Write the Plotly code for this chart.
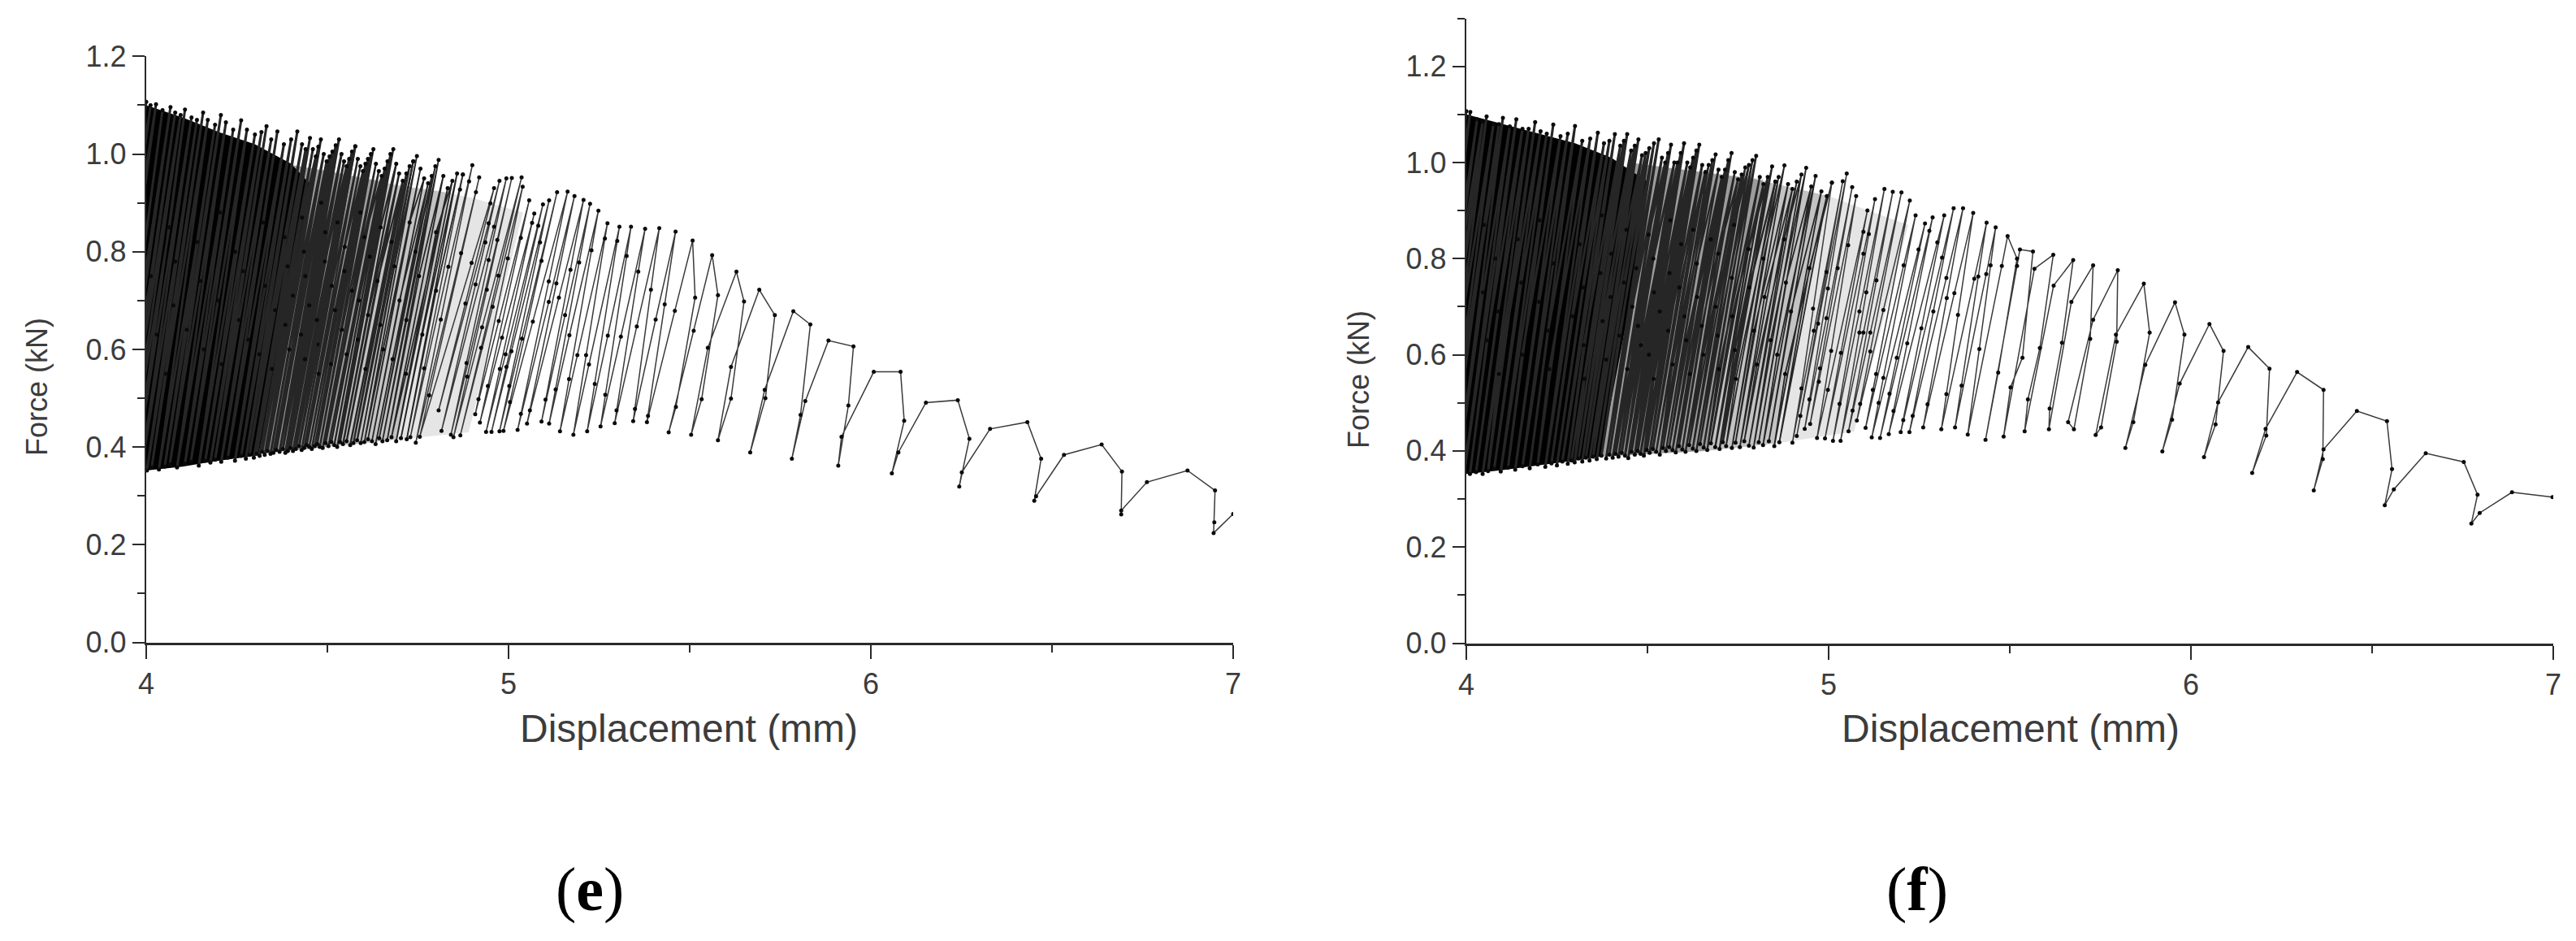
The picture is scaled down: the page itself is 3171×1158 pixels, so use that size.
import plotly.graph_objects as go

# ---------- panel (e) ----------
e_peak_x = [4.000,4.012,4.027,4.045,4.067,4.08,4.095,4.107,4.125,4.14,4.157,4.17,4.19,4.206,4.22,4.24,4.262,4.278,4.3,4.318,4.332,4.345,4.362,4.38,4.40,4.417,4.43,4.44,
 4.452,4.46,4.468,4.475,4.482,4.49,4.498,4.506,4.514,4.523,4.532,4.539,4.546,4.553,4.56,4.568,4.577,4.584,4.591,4.598,4.605,4.612,4.62,4.627,4.634,4.642,4.65,4.658,4.666,4.674,4.682,4.69,4.698,4.708,4.718,4.727,4.737,4.747,4.757,4.767,4.778,4.788,4.798,4.807,4.82,4.832,4.845,4.858]
e_peak_y = [1.107,1.10,1.102,1.09,1.096,1.085,1.08,1.091,1.075,1.07,1.085,1.07,1.06,1.080,1.065,1.05,1.069,1.05,1.04,1.045,1.057,1.03,1.046,1.02,1.03,1.046,1.02,1.01,
 1.033,1.01,.995,1.015,1.030,1.0,.985,.995,1.005,1.018,1.030,1.0,.985,.975,.99,1.005,1.016,.99,.975,.965,.98,.99,1.0,1.010,.98,.965,.955,.97,.985,1.0,1.010,.98,.96,.945,.96,.975,.985,.996,.97,.95,.94,.955,.975,.988,.955,.93,.945,.96]
e_valley_x = [3.857,3.872,3.89,3.912,3.925,3.94,3.952,3.97,3.985,4.002,4.015,4.035,4.051,4.065,4.085,4.107,4.123,4.145,4.163,4.177,4.19,4.207,4.225,4.245,4.262,4.275,4.285,4.297,
 4.305,4.313,4.32,4.327,4.335,4.343,4.351,4.359,4.368,4.377,4.384,4.391,4.398,4.405,4.413,4.422,4.429,4.436,4.443,4.45,4.457,4.465,4.472,4.479,4.487,4.495,4.503,4.511,4.519,4.527,4.535,4.543,4.553,4.563,4.572,4.582,4.592,4.602,4.612,4.623,4.633,4.643,4.652,4.665,4.677,4.69,4.703,4.719]
e_valley_y = [.335,.338,.34,.342,.343,.345,.346,.348,.349,.352,.358,.354,.36,.365,.358,.366,.37,.362,.372,.368,.374,.37,.378,.372,.382,.376,.384,.378,
 .386,.382,.39,.384,.392,.386,.388,.394,.39,.396,.388,.392,.398,.392,.396,.402,.394,.398,.404,.4,.396,.402,.406,.4,.398,.408,.402,.41,.404,.4,.41,.406,.412,.404,.408,.414,.408,.41,.416,.412,.406,.418,.412,.414,.42,.412,.418,.416]
e_mid_x = [3.938,3.924,3.995,3.978,4.013,3.987,4.064,4.029,4.08,4.075,4.055,4.14,4.112,4.15,4.204,4.159,4.199,4.245,4.208,4.267,4.256,4.322,4.282,4.328,4.312,4.382,4.356,4.39,
 4.347,4.43,4.384,4.405,4.435,4.395,4.439,4.483,4.427,4.45,4.494,4.438,4.493,4.471,4.528,4.476,4.512,4.476,4.548,4.521,4.547,4.51,4.591,4.54,4.568,4.602,4.553,4.587,4.617,4.584,4.647,4.612,4.638,4.605,4.677,4.646,4.685,4.654,4.727,4.699,4.68,4.743,4.718,4.753,4.717,4.80,4.762,4.80]
e_mid_y = [.72,.6,.81,.66,.75,.58,.85,.63,.78,.69,.55,.82,.64,.74,.88,.6,.7,.8,.57,.76,.66,.86,.62,.73,.59,.83,.68,.77,
 .56,.87,.65,.71,.8,.6,.75,.9,.63,.69,.84,.58,.78,.66,.86,.61,.73,.55,.81,.68,.76,.57,.88,.64,.72,.83,.59,.7,.79,.62,.85,.67,.74,.56,.82,.65,.77,.6,.86,.7,.58,.8,.66,.75,.55,.84,.63,.72]

e_cycle_x = [
 4.874,4.866,4.767,4.729,4.834, 4.900,4.891,4.813,4.744,4.869, 4.919,4.910,4.781,4.755,4.898,
 4.960,4.950,4.881,4.807,4.945, 4.975,4.936,4.909,4.815,4.960, 4.994,4.945,4.884,4.841,4.969,
 5.009,4.940,4.886,4.848,4.927, 5.036,4.972,4.924,4.867,4.956, 5.039,4.998,4.917,4.908,4.973,
 5.057,5.034,4.943,4.921,4.982, 5.071,5.065,4.976,4.938,4.992, 5.095,5.082,4.994,4.953,5.008,
 5.112,5.087,5.002,4.975,5.037, 5.134,5.091,5.004,4.986,5.067, 5.163,5.111,5.034,5.025,5.111,
 5.182,5.132,5.059,5.051,5.139, 5.207,5.171,5.102,5.091,5.156, 5.225,5.195,5.130,5.112,5.168,
 5.248,5.229,5.167,5.142,5.190, 5.273,5.266,5.214,5.179,5.222, 5.306,5.300,5.238,5.217,5.274,
 5.338,5.326,5.267,5.254,5.310, 5.377,5.358,5.298,5.293,5.354, 5.416,5.393,5.349,5.344,5.406,
 5.461,5.431,5.385,5.382,5.459, 5.508,5.515,5.462,5.442,5.511, 5.562,5.578,5.533,5.504,5.550,
 5.629,5.650,5.614,5.578,5.614, 5.692,5.735,5.709,5.667,5.707, 5.786,5.833,5.806,5.782,5.819,
 5.883,5.952,5.938,5.910,5.919, 6.008,6.082,6.092,6.058,6.076, 6.152,6.240,6.272,6.244,6.251,
 6.329,6.432,6.470,6.451,6.456, 6.533,6.637,6.693,6.691,6.691, 6.762,6.874,6.950,6.948,6.946, 7.0]
e_cycle_y = [
 .958,.927,.561,.420,.769, .977,.944,.661,.409,.797, .952,.922,.506,.421,.777,
 .930,.899,.694,.475,.858, .945,.819,.733,.433,.851, .950,.783,.572,.425,.824,
 .951,.722,.544,.420,.645, .952,.751,.603,.424,.687, .933,.786,.498,.467,.658,
 .905,.828,.525,.450,.624, .878,.859,.560,.431,.590, .897,.853,.564,.431,.596,
 .905,.819,.525,.432,.622, .922,.781,.492,.433,.657, .923,.739,.468,.435,.697,
 .914,.735,.475,.448,.706, .906,.763,.497,.452,.670, .898,.778,.518,.448,.629,
 .884,.803,.539,.432,.588, .858,.827,.588,.425,.569, .851,.822,.529,.432,.628,
 .851,.791,.507,.442,.626, .847,.759,.475,.449,.647, .848,.722,.478,.453,.661,
 .841,.692,.464,.451,.679, .823,.706,.482,.430,.638, .793,.711,.498,.425,.603,
 .759,.698,.499,.414,.564, .722,.670,.500,.389,.517, .678,.651,.466,.376,.494,
 .618,.606,.485,.362,.421, .554,.554,.454,.346,.389, .491,.496,.417,.319,.348,
 .437,.451,.376,.290,.299, .384,.405,.350,.262,.270, .328,.352,.311,.246,.224, .263]

e_solid_x = [4.0,4.1,4.2,4.3,4.4,4.45,4.40,4.31,4.3,4.2,4.1,4.0]
e_solid_y = [1.10,1.075,1.045,1.02,.98,.94,.70,.385,.382,.372,.36,.352]
# regions where the lines merge into a grey tone
e_band_a_x = [4.38,4.5,4.65,4.5,4.3]
e_band_a_y = [.98,.965,.945,.40,.385]
e_band_b_x = [4.38,4.5,4.6,4.7,4.84,4.69,4.5,4.3]
e_band_b_y = [.98,.965,.95,.935,.92,.415,.40,.385]
e_band_c_x = [4.38,4.5,4.6,4.7,4.8,4.9,5.04,4.89,4.69,4.5,4.3]
e_band_c_y = [.98,.965,.95,.935,.925,.91,.88,.43,.415,.40,.385]

# ---------- panel (f) ----------
f_peak_x = [4.0,4.011,4.03,4.045,4.056,4.075,4.09,4.101,4.12,4.138,4.155,4.172,4.19,4.205,4.222,4.24,4.26,4.28,4.30,4.32,4.342,4.363,4.38,4.395,4.41,4.425,4.435,4.444,4.455,4.465,4.475,4.485,4.495,4.505,4.518,4.531,4.54,4.549,4.557,4.565,4.574,4.583,4.592,4.601,4.61,4.618,4.626,4.635,4.643,4.651,4.66,4.669,4.679,4.688,4.696,4.705,4.714,4.723,4.732,4.741,4.75,4.76,4.77,4.78,4.79,4.80,4.81,4.82,4.832,4.844,4.853,4.862,4.878,4.888,4.9,4.912,4.925,4.938,4.952,4.964,4.98,4.995]
f_peak_y = [1.107,1.105,1.09,1.085,1.096,1.08,1.08,1.093,1.075,1.09,1.07,1.07,1.084,1.065,1.06,1.079,1.055,1.06,1.076,1.045,1.05,1.062,1.04,1.045,1.059,1.035,1.045,1.059,1.025,1.035,1.048,1.015,1.02,1.03,1.04,1.048,1.01,1.0,1.02,1.037,1.0,1.0,1.02,1.04,1.0,.99,1.01,1.025,1.037,.995,.98,.995,1.005,1.017,.985,.97,.985,1.005,1.02,.98,.965,.975,.99,.995,1.005,1.014,.97,.955,.97,.992,.96,.97,.994,.955,.945,.96,.975,.989,.95,.972,.94,.93]
f_valley_x = [3.866,3.885,3.90,3.911,3.93,3.945,3.956,3.975,3.993,4.01,4.027,4.045,4.06,4.077,4.095,4.115,4.135,4.155,4.175,4.197,4.218,4.235,4.25,4.265,4.28,4.29,4.299,4.31,4.32,4.33,4.34,4.35,4.36,4.373,4.386,4.395,4.404,4.412,4.42,4.429,4.438,4.447,4.456,4.465,4.473,4.481,4.49,4.498,4.506,4.515,4.524,4.534,4.543,4.551,4.56,4.569,4.578,4.587,4.596,4.605,4.615,4.625,4.635,4.645,4.655,4.665,4.675,4.687,4.699,4.708,4.717,4.733,4.743,4.755,4.767,4.78,4.793,4.807,4.819,4.835,4.85,4.864]
f_valley_y = [.332,.335,.337,.339,.341,.343,.345,.346,.348,.352,.356,.352,.358,.363,.357,.365,.361,.368,.364,.372,.367,.374,.37,.378,.373,.38,.376,.384,.378,.386,.38,.388,.383,.39,.384,.392,.386,.394,.388,.396,.39,.385,.398,.392,.4,.394,.39,.402,.396,.404,.398,.392,.406,.4,.408,.402,.397,.41,.403,.398,.412,.405,.4,.414,.407,.402,.416,.408,.404,.418,.41,.406,.417,.408,.42,.411,.407,.418,.412,.42,.41,.418]
f_mid_x = [3.929,3.977,3.942,3.989,3.985,4.049,3.991,4.046,4.08,4.057,4.088,4.142,4.09,4.152,4.202,4.154,4.201,4.24,4.226,4.229,4.313,4.294,4.323,4.374,4.324,4.37,4.326,4.40,4.376,4.398,4.442,4.386,4.435,4.422,4.469,4.458,4.503,4.444,4.474,4.516,4.482,4.518,4.563,4.504,4.534,4.561,4.517,4.593,4.557,4.588,4.626,4.569,4.602,4.636,4.607,4.637,4.675,4.617,4.65,4.695,4.654,4.688,4.739,4.694,4.733,4.697,4.734,4.779,4.741,4.781,4.744,4.82,4.794,4.823,4.802,4.877,4.84,4.882,4.858,4.896,4.88,4.947]
f_mid_y = [.7,.82,.61,.76,.66,.87,.58,.73,.8,.63,.69,.84,.56,.75,.88,.6,.71,.79,.65,.57,.83,.68,.74,.89,.62,.77,.55,.81,.67,.72,.86,.59,.75,.64,.78,.7,.85,.57,.66,.8,.62,.73,.88,.6,.69,.77,.55,.83,.65,.74,.86,.58,.68,.79,.63,.72,.84,.56,.66,.81,.6,.7,.87,.64,.76,.57,.68,.82,.61,.74,.55,.8,.65,.72,.58,.84,.63,.75,.6,.69,.56,.78]

f_cycle_x = [
 5.009,4.957,4.925,4.900,4.959, 5.039,4.994,4.922,4.912,4.971, 5.050,4.998,4.947,4.934,4.994,
 5.065,5.025,4.976,4.949,4.973, 5.076,5.054,5.007,4.968,4.998, 5.107,5.096,5.034,4.990,5.096,
 5.128,5.111,5.030,5.012,5.085, 5.154,5.104,5.085,5.033,5.096, 5.177,5.132,5.066,5.055,5.115,
 5.201,5.115,5.087,5.078,5.151, 5.224,5.131,5.122,5.102,5.207, 5.240,5.151,5.138,5.119,5.248,
 5.266,5.188,5.168,5.142,5.278, 5.287,5.217,5.179,5.166,5.300, 5.319,5.256,5.206,5.199,5.313,
 5.345,5.289,5.232,5.223,5.325, 5.371,5.326,5.273,5.261,5.347, 5.399,5.357,5.325,5.311,5.402,
 5.436,5.413,5.367,5.349,5.435, 5.461,5.447,5.416,5.384,5.478, 5.494,5.520,5.468,5.433,5.520,
 5.528,5.564,5.535,5.502,5.483,5.568, 5.620,5.583,5.550,5.541,5.621, 5.675,5.644,5.610,5.608,5.670,
 5.730,5.722,5.677,5.661,5.730, 5.798,5.795,5.752,5.737,5.793,
 5.870,5.886,5.841,5.819,5.874, 5.956,5.982,5.948,5.921,5.969, 6.051,6.090,6.068,6.036,6.075,
 6.158,6.217,6.208,6.169,6.206, 6.293,6.366,6.364,6.339,6.366, 6.458,6.541,6.555,6.535,6.560,
 6.648,6.753,6.791,6.774,6.797, 6.886,6.998]
f_cycle_y = [
 .958,.696,.530,.417,.650, .961,.772,.473,.431,.665, .977,.738,.507,.446,.676,
 .949,.780,.572,.456,.544, .930,.828,.608,.427,.527, .900,.856,.604,.426,.810,
 .924,.851,.498,.421,.690, .945,.730,.646,.421,.646, .939,.755,.484,.441,.646,
 .938,.607,.498,.463,.693, .921,.560,.527,.448,.786, .890,.552,.500,.428,.819,
 .873,.594,.519,.427,.858, .886,.624,.483,.435,.834, .890,.655,.464,.439,.802,
 .905,.690,.473,.439,.760, .905,.718,.497,.449,.728, .895,.683,.518,.445,.758,
 .875,.763,.536,.449,.768, .865,.786,.612,.434,.785, .847,.800,.563,.423,.785,
 .819,.815,.594,.532,.430,.779, .808,.614,.507,.441,.744, .797,.625,.488,.445,.710,
 .786,.633,.445,.460,.673, .776,.627,.449,.433,.642,
 .748,.646,.460,.406,.579, .709,.642,.465,.399,.540, .664,.608,.455,.387,.501,
 .616,.571,.432,.354,.446, .564,.527,.383,.318,.403, .483,.462,.362,.287,.320,
 .395,.377,.309,.249,.271, .314,.304]

f_solid_x = [4.0,4.1,4.2,4.3,4.4,4.5,4.45,4.37,4.3,4.2,4.1,4.0]
f_solid_y = [1.10,1.08,1.06,1.04,1.01,.96,.70,.388,.38,.37,.36,.352]
f_band_a_x = [4.45,4.6,4.82,4.66,4.37]
f_band_a_y = [1.0,.985,.965,.40,.388]
f_band_b_x = [4.45,4.6,4.8,5.0,4.85,4.66,4.37]
f_band_b_y = [1.0,.985,.965,.93,.415,.40,.388]
f_band_c_x = [4.45,4.6,4.8,5.0,5.22,5.07,4.85,4.66,4.37]
f_band_c_y = [1.0,.985,.965,.93,.87,.44,.415,.40,.388]

x_ticks = [4, 5, 6, 7]
x_title = "Displacement (mm)"
y_title = "Force (kN)"
panel_labels = ["(<b>e</b>)", "(<b>f</b>)"]

# the page has an 8 px body margin, so the figure is 8 px smaller and offset
W, H = 3163, 1150
OFF = 8
TXT = "#3c3c3c"
AX = "#2a2a2a"
LINE = "#3a3a3a"
DENSE = "#262626"

def px_x(p):
    return (p - OFF) / W

def px_y(p):
    return 1 - (p - OFF) / H

def path(px, py, vx, vy, mx, my):
    xs, ys = [], []
    for t in zip(px, vx, mx):
        xs.extend(t)
    for t in zip(py, vy, my):
        ys.extend(t)
    return xs, ys

fig = go.Figure()
panels = [
    ("x", "y", e_solid_x, e_solid_y,
     [(e_band_c_x, e_band_c_y, .1), (e_band_b_x, e_band_b_y, .15), (e_band_a_x, e_band_a_y, .2)],
     path(e_peak_x, e_peak_y, e_valley_x, e_valley_y, e_mid_x, e_mid_y), e_cycle_x, e_cycle_y, 44, 64),
    ("x2", "y2", f_solid_x, f_solid_y,
     [(f_band_c_x, f_band_c_y, .1), (f_band_b_x, f_band_b_y, .15), (f_band_a_x, f_band_a_y, .2)],
     path(f_peak_x, f_peak_y, f_valley_x, f_valley_y, f_mid_x, f_mid_y), f_cycle_x, f_cycle_y, 50, 70),
]
for xa, ya, sx, sy, bands, (dx, dy), cx, cy, cut1, cut2 in panels:
    for bx, by, alpha in bands:
        fig.add_trace(go.Scatter(x=bx, y=by, xaxis=xa, yaxis=ya, mode="lines", fill="toself",
                                 fillcolor=f"rgba(0,0,0,{alpha})", line=dict(width=0), hoverinfo="skip"))
    fig.add_trace(go.Scatter(x=sx, y=sy, xaxis=xa, yaxis=ya, mode="lines", fill="toself",
                             fillcolor="black", line=dict(color="black", width=0), hoverinfo="skip"))
    # the tighter the cycles, the heavier the merged strokes look
    a, b = 3 * cut1, 3 * cut2
    for seg_x, seg_y, width in [
        (dx[:a + 1], dy[:a + 1], 3.0),
        (dx[a:b + 1], dy[a:b + 1], 2.4),
        (dx[b:] + cx[:1], dy[b:] + cy[:1], 1.8),
        (cx, cy, 1.5),
    ]:
        fig.add_trace(go.Scatter(x=seg_x, y=seg_y, xaxis=xa, yaxis=ya, mode="lines+markers",
                                 line=dict(color=DENSE if width > 1.5 else LINE, width=width),
                                 marker=dict(color="#0a0a0a", size=5, symbol="circle")))

def xaxis_style(domain, anchor):
    return dict(domain=domain, anchor=anchor, range=[4, 7], tickvals=x_ticks, ticks="outside", automargin=False,
                ticklen=17, tickwidth=2.2, tickcolor=AX, showline=True, linecolor=AX, linewidth=3,
                showgrid=False, zeroline=False, tickfont=dict(family="Liberation Sans", size=36, color=TXT),
                minor=dict(tickvals=[4.5, 5.5, 6.5], ticks="outside", ticklen=9, tickwidth=2.2, tickcolor=AX))

def yaxis_style(domain, anchor, top):
    return dict(domain=domain, anchor=anchor, range=[0, top], dtick=0.2, tick0=0, tickformat=".1f", automargin=False,
                ticks="outside", ticklen=15, tickwidth=2.2, tickcolor=AX, showline=True, linecolor=AX,
                linewidth=2.4, showgrid=False, zeroline=False,
                tickfont=dict(family="Liberation Sans", size=36, color=TXT),
                minor=dict(dtick=0.1, tick0=0, ticks="outside", ticklen=9, tickwidth=2.2, tickcolor=AX))

annos = []
for cx, cy, rot, txt, fam, size, col in [
    (848, 896, 0, x_title, "Liberation Sans", 48, TXT),
    (2475, 896, 0, x_title, "Liberation Sans", 48, TXT),
    (45, 476, -90, y_title, "Liberation Sans", 36, TXT),
    (1672, 467, -90, y_title, "Liberation Sans", 36, TXT),
    (726, 1094, 0, panel_labels[0], "Liberation Serif", 76, "black"),
    (2360, 1094, 0, panel_labels[1], "Liberation Serif", 76, "black"),
]:
    annos.append(dict(x=px_x(cx), y=px_y(cy), xref="paper", yref="paper", text=txt, showarrow=False,
                      textangle=rot, xanchor="center", yanchor="middle",
                      font=dict(family=fam, size=size, color=col)))

fig.update_layout(
    width=W, height=H, margin=dict(l=0, r=0, t=0, b=0), paper_bgcolor="white", plot_bgcolor="white",
    showlegend=False, annotations=annos,
    xaxis=xaxis_style([px_x(180), px_x(1518)], "y"),
    yaxis=yaxis_style([px_y(790.5), px_y(69.3)], "x", 1.2),
    xaxis2=xaxis_style([px_x(1805), px_x(3143)], "y2"),
    yaxis2=yaxis_style([px_y(791.5), px_y(22.5)], "x2", 1.3),
)
fig.write_html("out.html")
